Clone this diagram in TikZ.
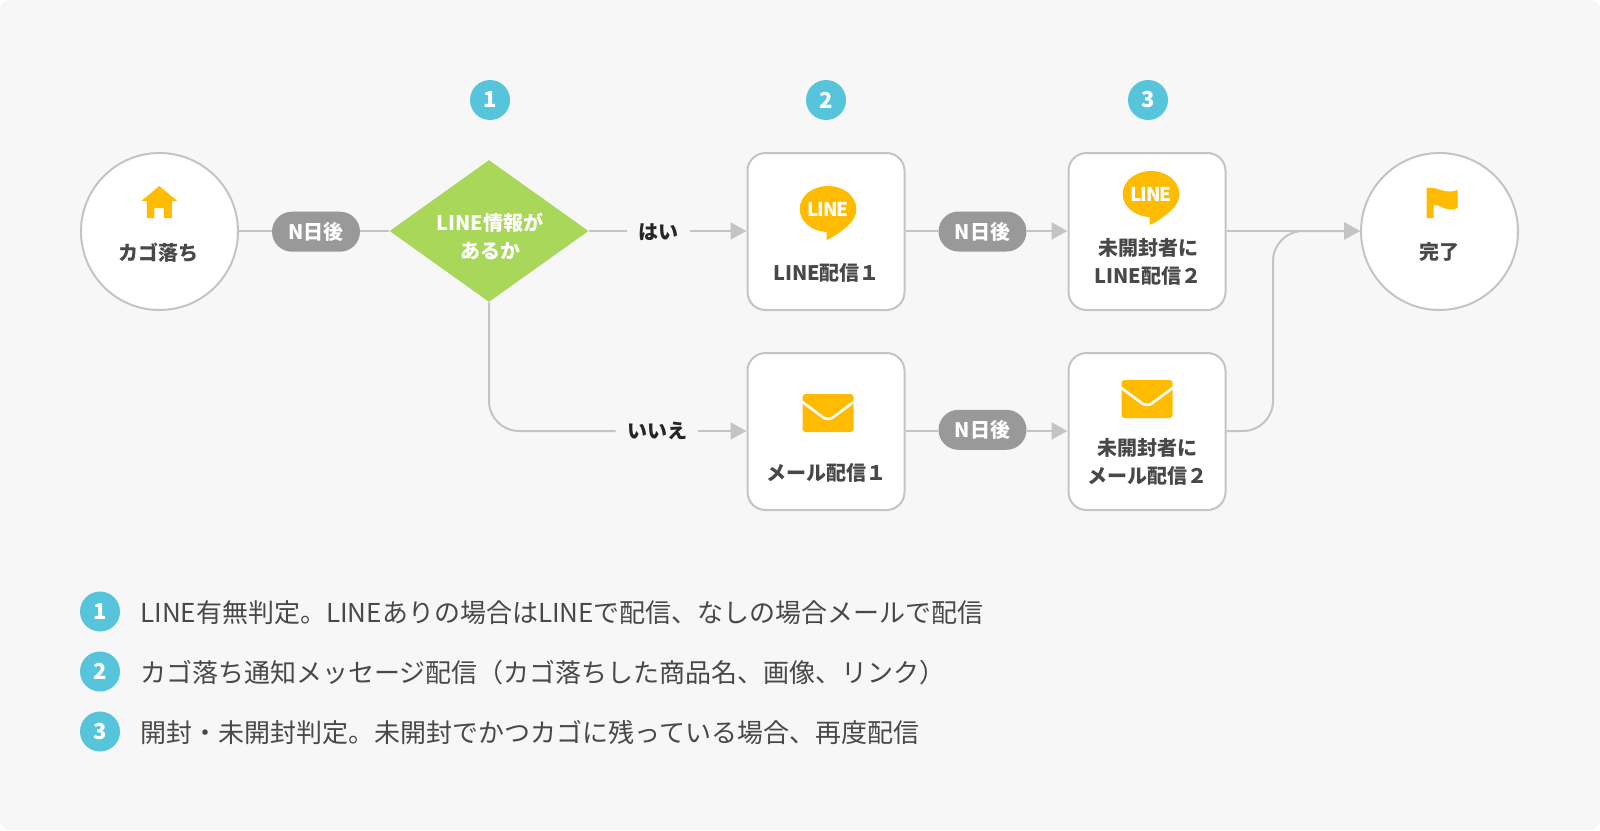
\documentclass[tikz,border=0pt]{standalone}
\usepackage{fontspec}
\setmainfont{Noto Sans CJK JP}
\newfontfamily\logofont[LetterSpace=-5]{Noto Sans CJK JP}
\usetikzlibrary{arrows.meta,shapes.geometric}

\definecolor{panelgray}{HTML}{F7F7F7}
\definecolor{linegray}{HTML}{C4C4C4}
\definecolor{pillgray}{HTML}{999999}
\definecolor{darktext}{HTML}{484848}
\definecolor{iconyellow}{HTML}{FFBB00}
\definecolor{badgeblue}{HTML}{56C5DC}
\definecolor{leafgreen}{HTML}{A8D75A}

\tikzset{
    flow/.style={line width=1pt,draw=linegray},
    flowarrow/.style={flow,-{Triangle[length=8pt,width=8.5pt,fill=linegray]}},
    roundnode/.style={circle,draw=linegray,line width=1pt,fill=white,minimum size=78.5pt,inner sep=0pt},
    boxnode/.style={rectangle,rounded corners=9pt,draw=linegray,line width=1pt,fill=white,minimum size=78.5pt,inner sep=0pt},
    pillnode/.style={rectangle,rounded corners=10pt,fill=pillgray,text=white,font=\fontsize{10}{12}\bfseries\selectfont,minimum width=44pt,minimum height=20pt,inner sep=0pt,text height=9pt,text depth=1pt},
    badgenode/.style={circle,fill=badgeblue,text=white,font=\fontsize{11}{12}\bfseries\selectfont,minimum size=20pt,inner sep=0pt},
    titlenode/.style={text=darktext,font=\fontsize{10}{13.9}\bfseries\selectfont,align=center,inner sep=0pt},
    answernode/.style={text=black!85,font=\fontsize{10}{12}\bfseries\selectfont,inner sep=0pt,text height=9pt,text depth=1pt},
    legendnode/.style={anchor=west,text=darktext,font=\fontsize{13}{15}\selectfont,inner sep=0pt},
}

% Icons, drawn around their centre
\newcommand{\houseicon}[1]{
\fill[iconyellow,shift={(#1)}] (0,-16) -- (18,-1) -- (12.5,-1) -- (12.5,16) -- (4.5,16) -- (4.5,6) -- (-5,6) -- (-5,16) -- (-12.5,16) -- (-12.5,-1) -- (-18,-1) -- cycle;
}
\newcommand{\bubbleicon}[1]{
\begin{scope}[shift={(#1)}]
\fill[iconyellow] (0,0) ellipse [x radius=28.3,y radius=23];
\fill[iconyellow] (-1.5,20) -- (-1.5,31) .. controls (6,28) and (16,21) .. (22,14) -- cycle;
\node[text=white,font=\logofont\bfseries\fontsize{9.5}{10}\selectfont,inner sep=0pt] (#1text) at (0,0) {LINE};
\end{scope}
}
\newcommand{\mailicon}[1]{
\begin{scope}[shift={(#1)}]
\fill[iconyellow,rounded corners=1.5pt] (-25.5,-19) rectangle (25.5,19);
\draw[white,line width=1.3pt,rounded corners=3pt] (-27,-12) -- (0,8) -- (27,-12);
\end{scope}
}
\newcommand{\flagicon}[1]{
\fill[iconyellow,shift={(#1)}] (-15.5,-15) .. controls (-5,-17) and (3,-8) .. (15.5,-13) -- (15.5,5) .. controls (5,10) and (-2,1) .. (-8.5,2) -- (-8.5,15) -- (-15.5,15) -- cycle;
}

\begin{document}
\begin{tikzpicture}[x=0.5pt,y=-0.5pt]

% Panel
\useasboundingbox (0,0) rectangle (1600,830);
\fill[panelgray,rounded corners=5pt] (0,0) rectangle (1600,830);

% Flow nodes
\node[roundnode] (start) at (159.5,231.5) {};
\node[pillnode] (waita) at (316,231.7) {N日後};
\node
[
    diamond,
    aspect=1.4,
    fill=leafgreen,
    minimum width=99.5pt,
    minimum height=71pt,
    inner sep=0pt
] (decision) at (489,231) {};
\node[answernode,minimum width=31pt] (yes) at (658.5,231) {はい};
\node[answernode,minimum width=41pt] (no) at (657,430) {いいえ};
\node[boxnode] (linea) at (826,231.5) {};
\node[boxnode] (maila) at (826,431.5) {};
\node[boxnode] (lineb) at (1147,231.5) {};
\node[boxnode] (mailb) at (1147,431.5) {};
\node[pillnode] (waitb) at (982.5,231.5) {N日後};
\node[pillnode] (waitc) at (982.5,429.8) {N日後};
\node[roundnode] (finish) at (1439.5,231.5) {};

% Connector levels and the merge point
\coordinate (rowa) at (0,231);
\coordinate (rowb) at (0,431);
\coordinate (merge) at (1273,431);

% Connectors
\draw[flow] (start.east |- rowa) -- (waita.west |- rowa);
\draw[flow] (waita.east |- rowa) -- (decision.west);
\draw[flow] (decision.east) -- (yes.west);
\draw[flowarrow] (yes.east) -- (linea.west |- rowa);
\draw[flow,rounded corners=15pt] (decision.south) |- (no.west |- rowb);
\draw[flowarrow] (no.east |- rowb) -- (maila.west |- rowb);
\draw[flow] (linea.east |- rowa) -- (waitb.west |- rowa);
\draw[flowarrow] (waitb.east |- rowa) -- (lineb.west |- rowa);
\draw[flow] (maila.east |- rowb) -- (waitc.west |- rowb);
\draw[flowarrow] (waitc.east |- rowb) -- (mailb.west |- rowb);
\draw[flowarrow] (lineb.east |- rowa) -- (finish.west |- rowa);
\draw[flowarrow,rounded corners=15pt] (mailb.east |- rowb) -- (merge) -- (merge |- rowa) -- (finish.west |- rowa);

% Texts inside the nodes
\node[titlenode] (starttext) at (158.5,253) {カゴ落ち};
\node[titlenode,text=white] (decisiontext) at (490,236.5) {LINE情報が\\あるか};
\node[titlenode] (lineatext) at (826.5,273) {LINE配信１};
\node[titlenode] (mailatext) at (826,473) {メール配信１};
\node[titlenode] (linebtext) at (1148,262) {未開封者に\\LINE配信２};
\node[titlenode] (mailbtext) at (1147,462) {未開封者に\\メール配信２};
\node[titlenode] (finishtext) at (1439.5,252) {完了};

% Icons
\houseicon{159.3,202}
\bubbleicon{828,209}
\bubbleicon{1151,194}
\mailicon{828,413}
\mailicon{1147,399}
\flagicon{1442,203}

% Step badges
\node[badgenode] (stepa) at (490,100) {1};
\node[badgenode] (stepb) at (826,100) {2};
\node[badgenode] (stepc) at (1148,100) {3};

% Legend
\node[badgenode] (keya) at (100,611.5) {1};
\node[badgenode] (keyb) at (100,671.5) {2};
\node[badgenode] (keyc) at (100,731.5) {3};
\node[legendnode] (keyatext) at (140,612.5) {LINE有無判定。LINEありの場合はLINEで配信、なしの場合メールで配信};
\node[legendnode] (keybtext) at (140,672.5) {カゴ落ち通知メッセージ配信（カゴ落ちした商品名、画像、リンク）};
\node[legendnode] (keyctext) at (140,732.5) {開封・未開封判定。未開封でかつカゴに残っている場合、再度配信};

\end{tikzpicture}
\end{document}
